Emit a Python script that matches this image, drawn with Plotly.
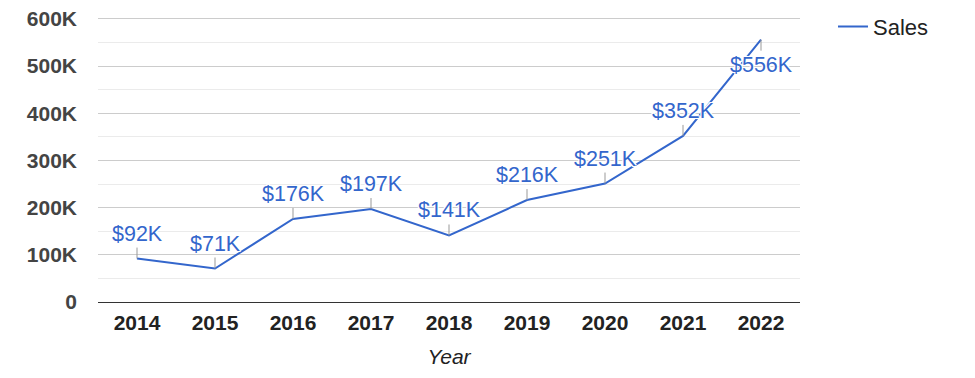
import plotly.graph_objects as go

years = ["2014", "2015", "2016", "2017", "2018", "2019", "2020", "2021", "2022"]
sales = [92000, 71000, 176000, 197000, 141000, 216000, 251000, 352000, 556000]
labels = ["$92K", "$71K", "$176K", "$197K", "$141K", "$216K", "$251K", "$352K", "$556K"]
label_below = [False, False, False, False, False, False, False, False, True]
ytick_vals = [0, 100000, 200000, 300000, 400000, 500000, 600000]
ytick_text = ["0", "100K", "200K", "300K", "400K", "500K", "600K"]

FONT = "Arial, 'Liberation Sans', sans-serif"
BLUE = "#3366cc"

fig = go.Figure()
fig.add_trace(go.Scatter(
    x=years, y=sales, mode="lines", name="Sales",
    line=dict(color=BLUE, width=2),
))

halo = "-1px -1px 0 #fff, 1px -1px 0 #fff, -1px 1px 0 #fff, 1px 1px 0 #fff, 0 0 2px #fff"
for i, (v, t, below) in enumerate(zip(sales, labels, label_below)):
    fig.add_annotation(
        x=i, y=v, text=t, showarrow=True, arrowhead=0, arrowwidth=1,
        arrowcolor="#999999", ax=0, ay=(11 if below else -11),
        xanchor="center", yanchor=("top" if below else "bottom"),
        font=dict(family=FONT, size=21.5, color=BLUE, shadow=halo),
    )

fig.update_layout(
    width=967, height=370,
    margin=dict(l=90, r=175, t=9, b=76, autoexpand=False),
    paper_bgcolor="white", plot_bgcolor="white",
    font=dict(family=FONT),
    showlegend=True,
    legend=dict(x=1.047, y=1.04, xanchor="left", yanchor="top",
                font=dict(family=FONT, size=22, color="#222222"),
                bgcolor="rgba(0,0,0,0)"),
    xaxis=dict(
        type="category", range=[-0.5, 8.5], automargin=False,
        showgrid=False, zeroline=False,
        showline=True, linecolor="#333333", linewidth=1,
        tickfont=dict(family=FONT, size=21, color="#222222", weight="bold"),
        ticks="", ticklabelstandoff=2,
        title=dict(text="Year", font=dict(family=FONT, size=21, color="#222222", style="italic"), standoff=16),
    ),
    yaxis=dict(
        range=[0, 604000], tickvals=ytick_vals, ticktext=ytick_text,
        automargin=False, ticklabeloverflow="allow",
        showgrid=True, gridcolor="#cccccc", gridwidth=1,
        zeroline=False, showline=False, ticks="",
        tickfont=dict(family=FONT, size=21, color="#444444", weight="bold"),
        ticklabelstandoff=20,
        minor=dict(dtick=50000, tick0=0, showgrid=True, gridcolor="#ebebeb", gridwidth=1),
    ),
)

fig.write_html("out.html")
